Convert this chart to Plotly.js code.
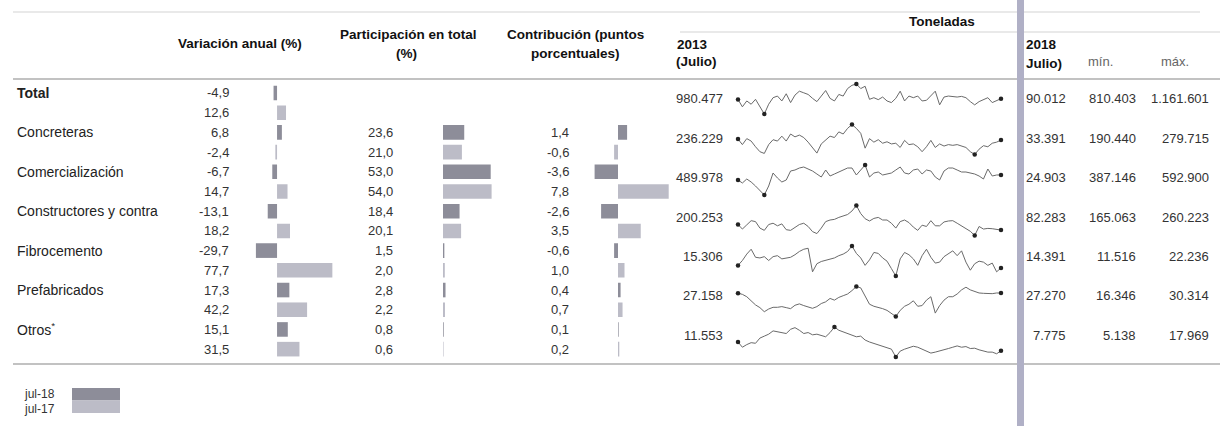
<!DOCTYPE html>
<html><head><meta charset="utf-8">
<script src="https://cdn.plot.ly/plotly-3.0.1.min.js"></script>
<style>html,body{margin:0;padding:0;background:#fff}#chart{width:1226px;height:426px}</style>
</head><body><div id="chart"></div>
<script>
// ---------- data ----------
const categories = ['Total','Concreteras','Comercialización','Constructores y contra','Fibrocemento','Prefabricados','Otros*'];
const seriesNames = ['jul-18','jul-17'];
const varJul18 = [-4.9, 6.8, -6.7, -13.1, -29.7, 17.3, 15.1];
const varJul17 = [12.6, -2.4, 14.7, 18.2, 77.7, 42.2, 31.5];
const partJul18 = [null, 23.6, 53.0, 18.4, 1.5, 2.8, 0.8];
const partJul17 = [null, 21.0, 54.0, 20.1, 2.0, 2.2, 0.6];
const contJul18 = [null, 1.4, -3.6, -2.6, -0.6, 0.4, 0.1];
const contJul17 = [null, -0.6, 7.8, 3.5, 1.0, 0.7, 0.2];
const ton2013 = [980477, 236229, 489978, 200253, 15306, 27158, 11553];
const ton2018Labels = ['90.012','33.391','24.903','82.283','14.391','27.270','7.775'];
const tonMin = [810403, 190440, 387146, 165063, 11516, 16346, 5138];
const tonMax = [1161601, 279715, 592900, 260223, 22236, 30314, 17969];

// monthly series Jul-2013 .. Jul-2018 (thousand tonnes)
const sparkTotal = [980.477,894.4,963.1,924.9,982.2,894.4,810.403,924.9,1001.3,1020.4,963.1,1047.1,944.0,1031.8,1077.6,1058.5,1039.4,993.6,955.5,1020.4,1085.3,993.6,963.1,1039.4,1020.4,1108.2,1146.3,1161.601,1108.2,1134.9,982.2,1001.3,978.4,1008.9,963.1,944.0,993.6,1077.6,963.1,1020.4,1001.3,1020.4,963.1,970.7,1020.4,1077.6,917.3,1008.9,1020.4,1016.5,1008.9,1016.5,1001.3,955.5,917.3,955.5,978.4,1001.3,944.0,970.7,990.012];
const sparkConcreteras = [236.229,219.9,237.7,230.4,213.5,198.8,193.6,219.9,234.5,230.4,245.0,230.4,251.4,242.9,248.2,240.9,227.2,211.4,194.6,221.9,232.5,245.0,240.9,257.7,251.4,268.2,279.715,268.2,253.5,209.3,237.7,227.2,234.5,224.0,228.3,221.9,224.0,211.4,232.5,219.9,221.9,213.5,198.8,213.5,232.5,211.4,221.9,215.6,219.9,217.7,219.9,215.6,211.4,198.8,190.440,206.2,216.7,213.5,224.0,227.2,233.391];
const sparkComercializacion = [489.978,469.4,496.9,476.3,448.9,421.4,387.146,448.9,538.0,503.7,476.3,490.0,551.7,558.6,572.3,579.2,565.5,551.7,531.2,510.6,558.6,517.4,531.2,544.9,558.6,572.3,572.3,524.3,558.6,592.900,510.6,538.0,544.9,524.3,531.2,538.0,558.6,579.2,538.0,531.2,558.6,565.5,531.2,558.6,551.7,510.6,490.0,551.7,572.3,572.3,558.6,544.9,544.9,538.0,531.2,517.4,496.9,565.5,517.4,524.3,524.903];
const sparkConstructores = [200.253,185.5,198.8,212.1,209.1,188.6,181.4,199.9,204.0,195.8,201.9,183.5,181.4,191.7,199.9,204.0,193.7,177.3,171.2,188.6,209.1,214.2,216.2,222.4,227.5,231.6,242.8,260.223,234.6,218.3,211.1,219.3,222.4,214.2,214.2,204.0,188.6,209.1,214.2,206.0,191.7,181.4,197.8,193.7,212.1,195.8,195.8,208.0,211.1,212.1,204.0,195.8,187.6,178.4,165.063,193.7,185.5,187.6,186.6,185.5,182.283];
const sparkFibrocemento = [15.306,17.05,19.35,21.08,18.20,17.97,18.43,17.05,18.43,18.78,17.63,17.97,18.20,19.12,20.28,21.08,21.43,13.01,15.90,16.70,17.05,17.40,17.97,18.78,19.35,20.28,22.236,19.59,17.97,15.32,17.28,19.93,19.59,17.97,16.82,14.17,11.516,17.63,19.93,19.12,17.63,15.32,18.78,21.08,18.20,16.13,16.47,18.43,19.35,20.51,18.78,20.51,16.47,13.59,15.90,16.82,16.47,15.32,16.13,13.01,14.391];
const sparkPrefabricados = [27.158,26.66,25.55,23.49,21.74,20.47,18.57,19.84,20.63,20.63,20.95,20.47,20.00,21.58,22.22,21.43,20.63,20.16,20.95,22.38,23.17,24.76,23.97,25.24,26.03,26.82,28.41,30.314,29.68,25.55,22.06,21.11,20.63,20.00,19.20,17.62,16.346,19.20,21.11,22.06,23.65,21.11,21.43,23.97,25.55,17.93,21.43,23.97,25.55,25.55,26.82,28.73,29.99,28.73,27.93,27.30,27.14,26.98,26.98,27.30,27.270];
const sparkOtros = [11.553,9.32,10.44,11.27,11.00,13.23,14.06,14.90,16.30,15.88,15.32,15.18,16.99,17.69,16.58,15.18,15.60,14.62,14.90,14.34,13.78,15.60,17.969,16.58,15.88,15.18,14.62,13.78,14.06,12.39,11.55,11.00,10.44,9.88,9.32,8.49,5.138,7.65,8.49,9.04,9.74,9.32,8.49,7.51,6.81,7.23,7.65,8.35,8.76,9.32,9.88,9.32,9.60,8.76,8.90,8.21,7.65,7.23,7.23,6.53,7.775];
const sparks = [sparkTotal, sparkConcreteras, sparkComercializacion, sparkConstructores, sparkFibrocemento, sparkPrefabricados, sparkOtros];

// ---------- layout helpers ----------
const W = 1226, H = 426;
const px = x => x / W;
const py = y => 1 - y / H;
const FONT = 'Liberation Sans, Arial, sans-serif';
const C18 = '#8d8d99', C17 = '#bcbcc7';
const fmtDec = v => v.toFixed(1).replace('.', ',');
const fmtTon = v => Math.round(v).toString().replace(/\B(?=(\d{3})+(?!\d))/g, '.');

const rows18 = categories.map((c, k) => 2 * k);
const rows17 = categories.map((c, k) => 2 * k + 1);

const traces = [];
function barPair(xa, v18, v17) {
  traces.push({type:'bar', orientation:'h', x:v18, y:rows18, xaxis:xa, yaxis:'y', width:0.74,
    marker:{color:C18}, hoverinfo:'skip', showlegend:false});
  traces.push({type:'bar', orientation:'h', x:v17, y:rows17, xaxis:xa, yaxis:'y', width:0.74,
    marker:{color:C17}, hoverinfo:'skip', showlegend:false});
}
barPair('x', varJul18, varJul17);
barPair('x2', partJul18, partJul17);
barPair('x3', contJul18, contJul17);

const layout = {
  width: W, height: H, margin:{l:0,r:0,t:0,b:0},
  paper_bgcolor:'#ffffff', plot_bgcolor:'rgba(0,0,0,0)',
  barmode:'overlay', showlegend:false, font:{family:FONT, color:'#333'},
  yaxis:{domain:[py(359), py(83.15)], range:[13.5,-0.5], visible:false, fixedrange:true},
  xaxis:{domain:[px(250), px(334)], range:[-38,80], anchor:'y', visible:false},
  xaxis2:{domain:[px(443), px(497)], range:[0,60], anchor:'y', visible:false},
  xaxis3:{domain:[px(585.5), px(676.5)], range:[-5,9], anchor:'y', visible:false},
  annotations:[], shapes:[]
};

// sparklines
const n = sparkTotal.length;
layout.xaxis4 = {domain:[px(738), px(1001)], range:[0, n-1], anchor:'y4', visible:false};
sparks.forEach((s, k) => {
  const ya = 'y' + (4 + k);
  const top = 84 + 40.5 * k;
  const lo = Math.min(...s), hi = Math.max(...s);
  layout['yaxis' + (4 + k)] = {domain:[py(top + 30), py(top)], range:[lo, hi], anchor:'x4', visible:false};
  const xs = s.map((v, i) => i);
  traces.push({type:'scatter', mode:'lines', x:xs, y:s, xaxis:'x4', yaxis:ya,
    line:{color:'#6a6a6a', width:1}, hoverinfo:'skip', cliponaxis:false});
  const idx = [0, s.length - 1, s.indexOf(lo), s.indexOf(hi)];
  traces.push({type:'scatter', mode:'markers', x:idx, y:idx.map(i => s[i]), xaxis:'x4', yaxis:ya,
    marker:{color:'#222', size:4.5}, hoverinfo:'skip', cliponaxis:false});
});

// ---------- text ----------
function ann(text, x, y, opts) {
  layout.annotations.push(Object.assign({text, x, y, xref:'paper', yref:'paper', showarrow:false,
    xanchor:'left', yanchor:'middle', font:{family:FONT, size:13, color:'#333'}}, opts || {}));
}
function rowAnn(text, xPix, row, anchor, font) {
  layout.annotations.push({text, x:px(xPix), y:row, xref:'paper', yref:'y', showarrow:false,
    xanchor:anchor, yanchor:'middle', font:Object.assign({family:FONT, size:13, color:'#333'}, font || {})});
}

categories.forEach((c, k) => {
  const label = k === 0 ? '<b>' + c + '</b>' : c.replace('*', '<sup>*</sup>');
  rowAnn(label, 15, 2 * k, 'left', {size:14, color:'#222'});
  rowAnn(fmtDec(varJul18[k]), 231, 2 * k, 'right');
  rowAnn(fmtDec(varJul17[k]), 231, 2 * k + 1, 'right');
  if (partJul18[k] !== null) {
    rowAnn(fmtDec(partJul18[k]), 395, 2 * k, 'right');
    rowAnn(fmtDec(partJul17[k]), 395, 2 * k + 1, 'right');
    rowAnn(fmtDec(contJul18[k]), 571, 2 * k, 'right');
    rowAnn(fmtDec(contJul17[k]), 571, 2 * k + 1, 'right');
  }
  rowAnn(fmtTon(ton2013[k]), 725, 2 * k + 0.3, 'right');
  rowAnn(ton2018Labels[k], 1068, 2 * k + 0.3, 'right');
  rowAnn(fmtTon(tonMin[k]), 1138, 2 * k + 0.3, 'right');
  rowAnn(fmtTon(tonMax[k]), 1211, 2 * k + 0.3, 'right');
});

const hb = {family:FONT, size:13.5, color:'#111'};
ann('<b>Variación anual (%)</b>', px(240), py(43), {xanchor:'center', font:hb});
ann('<b>Participación en total</b>', px(408), py(35), {xanchor:'center', font:hb});
ann('<b>(%)</b>', px(406), py(53), {xanchor:'center', font:hb});
ann('<b>Contribución (puntos</b>', px(575), py(35), {xanchor:'center', font:hb});
ann('<b>porcentuales)</b>', px(575), py(53), {xanchor:'center', font:hb});
ann('<b>2013</b>', px(692), py(45), {xanchor:'center', font:hb});
ann('<b>(Julio)</b>', px(697), py(62), {xanchor:'center', font:hb});
ann('<b>Toneladas</b>', px(907), py(22), {xanchor:'left', font:hb});
ann('<b>2018</b>', px(1024), py(45), {xanchor:'left', font:hb});
ann('<b>Julio)</b>', px(1024), py(63), {xanchor:'left', font:hb});
ann('mín.', px(1100), py(62), {xanchor:'center', font:{family:FONT, size:13, color:'#666'}});
ann('máx.', px(1175), py(62), {xanchor:'center', font:{family:FONT, size:13, color:'#666'}});

// legend
const lf = {family:'Liberation Sans Narrow, Arial Narrow, Liberation Sans, sans-serif', size:12, color:'#333'};
ann(seriesNames[0], px(22), py(394), {font:lf});
ann(seriesNames[1], px(22), py(409), {font:lf});
layout.shapes.push({type:'rect', xref:'paper', yref:'paper', x0:px(72), x1:px(120), y0:py(400.5), y1:py(388), fillcolor:C18, line:{width:0}});
layout.shapes.push({type:'rect', xref:'paper', yref:'paper', x0:px(72), x1:px(120), y0:py(413), y1:py(400.5), fillcolor:C17, line:{width:0}});

// rules
function hline(y, x0, x1, color, w) {
  layout.shapes.push({type:'line', xref:'paper', yref:'paper', x0:px(x0), x1:px(x1), y0:py(y), y1:py(y),
    line:{color, width:w}});
}
hline(12, 13, 1200, '#d3d3d3', 1.2);
hline(32, 680, 1220, '#d3d3d3', 1.2);
hline(79, 13, 1220, '#c2c2c2', 2);
hline(364, 13, 1220, '#c2c2c2', 2);
// vertical band
layout.shapes.push({type:'rect', xref:'paper', yref:'paper', x0:px(1017), x1:px(1024), y0:0, y1:1,
  fillcolor:'#b0b0c6', line:{width:0}, layer:'above'});

Plotly.newPlot('chart', traces, layout, {staticPlot:true, displayModeBar:false});
</script>
</body></html>
